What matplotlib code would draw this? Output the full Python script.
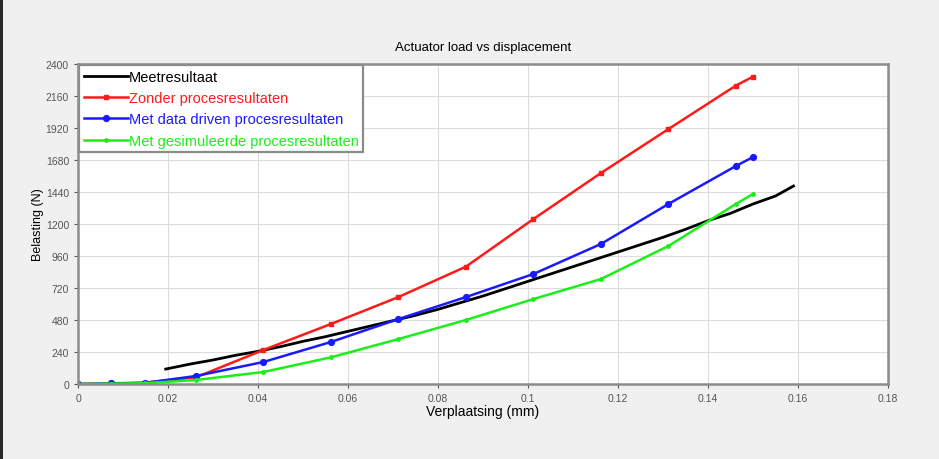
import matplotlib
matplotlib.use("Agg")
import matplotlib.pyplot as plt
from matplotlib.patches import Rectangle

# displacement (mm) of the simulation steps
x_sim = [0.0, 0.0073, 0.0148, 0.0262, 0.0412, 0.0562, 0.0712, 0.0862,
         0.1012, 0.1162, 0.1312, 0.1462, 0.1500]
zonder = [0, 5, 10, 50, 255, 450, 652, 880, 1237, 1582, 1912, 2238, 2305]
data_driven = [0, 4, 8, 60, 165, 315, 487, 652, 825, 1050, 1350, 1635, 1702]
gesimuleerd = [0, 3, 6, 30, 90, 200, 337, 480, 637, 787, 1035, 1350, 1425]

# measurement
x_meet = [0.0195, 0.025, 0.03, 0.035, 0.04, 0.045, 0.05, 0.055, 0.06, 0.065,
          0.07, 0.075, 0.08, 0.085, 0.09, 0.095, 0.10, 0.105, 0.11, 0.115,
          0.12, 0.125, 0.13, 0.135, 0.14, 0.145, 0.15, 0.155, 0.159]
meet = [112, 150, 180, 215, 245, 280, 320, 355, 395, 435,
        475, 515, 560, 610, 660, 715, 770, 825, 880, 935,
        990, 1045, 1100, 1160, 1225, 1280, 1350, 1410, 1485]

plt.rcParams['font.family'] = ['Liberation Sans', 'DejaVu Sans']

fig = plt.figure(figsize=(9.39, 4.6), dpi=100, facecolor='#f0f0f0')
# dark strip on the left edge of the screenshot
fig.patches.append(Rectangle((0, 0), 3 / 939, 1, transform=fig.transFigure,
                             facecolor='#2a2a2a', edgecolor='none'))
ax = fig.add_axes([78 / 939, 75 / 460, 810 / 939, 320 / 460])
ax.set_facecolor('white')

ax.plot(x_meet, meet, color='black', lw=2.0, label='Meetresultaat')
ax.plot(x_sim, zonder, color='#ff1a1a', lw=1.8, marker='s', ms=3.2,
        label='Zonder procesresultaten')
ax.plot(x_sim, data_driven, color='#1a1aff', lw=1.8, marker='o', ms=4.2,
        label='Met data driven procesresultaten')
ax.plot(x_sim, gesimuleerd, color='#1aef1a', lw=1.8, marker='o', ms=2.5,
        label='Met gesimuleerde procesresultaten')

ax.set_xlim(0, 0.18)
ax.set_ylim(0, 2400)
ax.set_xticks([0, 0.02, 0.04, 0.06, 0.08, 0.1, 0.12, 0.14, 0.16, 0.18])
ax.set_xticklabels(['0', '0.02', '0.04', '0.06', '0.08', '0.1', '0.12',
                    '0.14', '0.16', '0.18'])
ax.set_yticks(range(0, 2401, 240))
ax.tick_params(labelsize=7.5, colors='#555555', length=3, width=0.8)
ax.grid(True, color='#dcdcdc', lw=0.8)
ax.set_axisbelow(True)
for s in ax.spines.values():
    s.set_color('#8c8c8c')
    s.set_linewidth(1.8)

ax.set_title('Actuator load vs displacement', fontsize=9.5, pad=10)
ax.set_xlabel('Verplaatsing (mm)', fontsize=10, labelpad=1)
ax.set_ylabel('Belasting (N)', fontsize=9, labelpad=1)

leg = ax.legend(loc='upper left', bbox_to_anchor=(0, 1), borderaxespad=0.1,
                fancybox=False, fontsize=10.5, handlelength=3.0,
                handletextpad=0.1, labelspacing=0.5, borderpad=0.3,
                framealpha=1)
leg.get_frame().set_edgecolor('#8c8c8c')
leg.get_frame().set_linewidth(1.6)
for txt, line in zip(leg.get_texts(), leg.get_lines()):
    txt.set_color(line.get_color())

fig.savefig('out.png', dpi=100, facecolor=fig.get_facecolor())
